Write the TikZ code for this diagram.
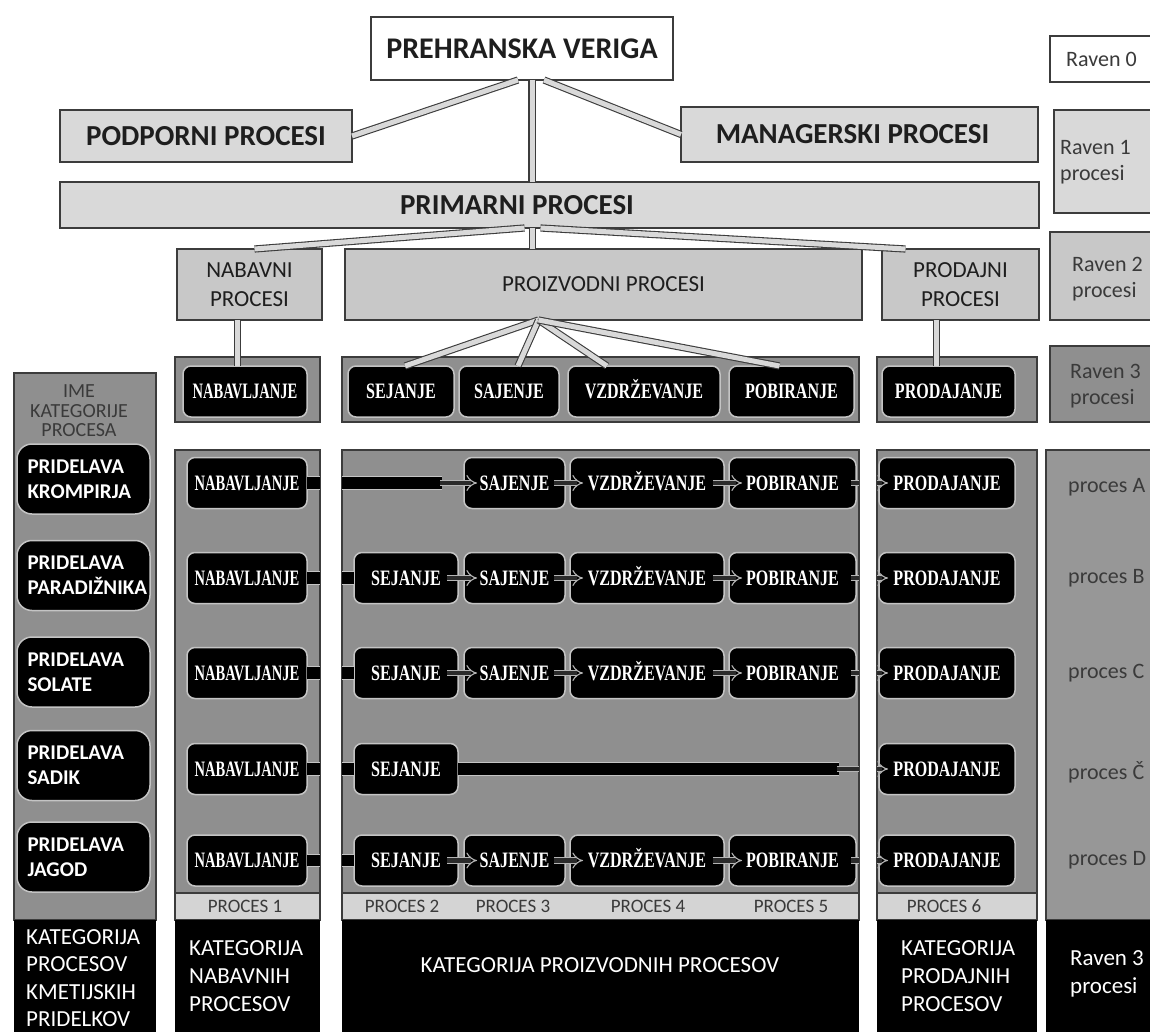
\documentclass[tikz,border=0pt]{standalone}
\usepackage{fontspec}
\setmainfont{Carlito}
\newfontfamily\boxserif{Liberation Serif}
\usepackage{graphicx}
\usetikzlibrary{arrows.meta,calc}

\definecolor{edge}{HTML}{3C3C3C}
\definecolor{lvlone}{HTML}{D9D9D9}
\definecolor{lvltwo}{HTML}{C8C8C8}
\definecolor{panel}{HTML}{8F8F8F}
\definecolor{sidepanel}{HTML}{979797}
\definecolor{strip}{HTML}{D4D4D4}
\definecolor{ink}{HTML}{1E1E1E}
\definecolor{soft}{HTML}{3A3A3A}
\definecolor{rim}{HTML}{C4C4C4}
\definecolor{arrowrim}{HTML}{B4B4B4}
\definecolor{arrowcore}{HTML}{2B2B2B}

\newcommand{\setfs}[2]{\fontsize{#1}{#2}\selectfont}
\newcommand{\condtext}[2][0.73]{\scalebox{#1}[1]{#2}}

\tikzset{
  sq/.style={anchor=north west, inner sep=0pt, outer sep=0pt, line width=1.2pt, draw=edge},
  wh/.style 2 args={minimum width=#1, minimum height=#2},
  levelone/.style={sq, fill=lvlone, text=ink, font=\setfs{29}{34}\bfseries},
  leveltwo/.style={sq, fill=lvltwo, text=ink, align=center, font=\setfs{23}{29}},
  panelbox/.style={sq, fill=panel},
  stripbox/.style={sq, fill=strip},
  bandbox/.style={anchor=north west, inner sep=0pt, outer sep=0pt, fill=black},
  stepbox/.style={draw=rim, line width=1.5pt, fill=black, rounded corners=8pt, text=white,
    font=\boxserif\bfseries\setfs{22}{24}, text height=14.5pt, text depth=0pt,
    minimum height=51, inner sep=0pt, outer sep=0pt},
  catbox/.style={anchor=west, draw=rim, line width=1.5pt, fill=black, rounded corners=15pt,
    text=white, font=\setfs{21}{25}\bfseries, align=left, text width=112, minimum width=133,
    minimum height=70, inner xsep=10.5pt, inner ysep=0pt, outer sep=0pt},
  keytext/.style={anchor=west, align=left, inner sep=0pt, text=soft, font=\setfs{22}{26}},
  striptext/.style={inner sep=0pt, text=soft, font=\setfs{19}{22}},
  bandtext/.style={anchor=west, align=left, inner sep=0pt, text=white, font=\setfs{23}{28}},
  dbl/.style={draw=edge, double=lvlone, double distance=5pt, line width=1.1pt},
  bar/.style={draw=rim, double=black, double distance=11.5pt, line width=0.9pt},
  hollow/.style={draw=arrowrim, double=arrowcore, double distance=4.5pt, line width=1.1pt, -{Implies}},
  stub/.style={draw=arrowrim, double=arrowcore, double distance=4.5pt, line width=1.1pt},
}

\begin{document}
\begin{tikzpicture}[x=1pt,y=-1pt]
\useasboundingbox (0,0) rectangle (1150,1032);
\clip (0,0) rectangle (1150,1032);
\fill[white] (0,0) rectangle (1150,1032);

% ---------- level 0 and 1 ----------
\node[sq, fill=white, wh={302}{63}, text=ink, font=\setfs{30}{36}\bfseries] (chain) at (371,17) {PREHRANSKA VERIGA};
\node[levelone, wh={292}{52}] (support) at (60,110) {PODPORNI PROCESI};
\node[levelone, wh={357}{55}] (manage) at (681,107) {MANAGERSKI PROCESI\hspace*{14pt}};
\node[levelone, wh={979}{46}] (primary) at (60,182) {};
\node[inner sep=0pt, text=ink, font=\setfs{29}{34}\bfseries] (primarytxt) at (517,205) {PRIMARNI PROCESI};

% ---------- level key on the right ----------
\node[sq, fill=white, wh={120}{46}] (lv0) at (1050,36) {};
\node[keytext] (lv0txt) at (1066,59) {Raven 0};
\node[sq, fill=lvlone, wh={120}{103}] (lv1) at (1054,110) {};
\node[keytext] (lv1txt) at (1060,162) {Raven 1\\procesi};
\node[sq, fill=lvltwo, wh={120}{88}] (lv2) at (1050,232) {};
\node[keytext] (lv2txt) at (1072,279) {Raven 2\\procesi};
\node[sq, fill=panel, wh={120}{76}] (lv3) at (1050,346) {};
\node[keytext] (lv3txt) at (1070,386) {Raven 3\\procesi};

% ---------- level 2 ----------
\node[leveltwo, wh={145}{71}] (buy) at (177,249) {NABAVNI\\PROCESI};
\node[leveltwo, wh={517}{71}] (make) at (345,249) {PROIZVODNI PROCESI};
\node[leveltwo, wh={157}{71}] (sell) at (882,249) {PRODAJNI\\PROCESI};

% ---------- level 3 header ----------
\node[panelbox, wh={145}{65}] (hbuyp) at (175,357) {};
\node[panelbox, wh={517}{65}] (hmakep) at (342,357) {};
\node[panelbox, wh={160}{65}] (hsellp) at (877,357) {};
\node[stepbox, minimum width=124] (hbuy) at (245,391.5) {\condtext[0.66]{NABAVLJANJE}};
\node[stepbox, minimum width=106] (hsow) at (401,391.5) {\condtext{SEJANJE}};
\node[stepbox, minimum width=100] (hplant) at (509,391.5) {\condtext{SAJENJE}};
\node[stepbox, minimum width=152] (htend) at (644,391.5) {\condtext{VZDRŽEVANJE}};
\node[stepbox, minimum width=125] (hharvest) at (791.5,391.5) {\condtext{POBIRANJE}};
\node[stepbox, minimum width=133] (hsell) at (948.5,391.5) {\condtext{PRODAJANJE}};

% ---------- hierarchy connectors ----------
\coordinate (spine) at ($(chain.south)+(10,0)$);
\draw[dbl] ($(chain.south)+(-4,0)$) -- (support.east);
\draw[dbl] (spine) -- (spine |- primary.north);
\draw[dbl] ($(chain.south)+(22,0)$) -- (manage.west);

\coordinate (hub) at ($(primary.south)+(-17,0)$);
\draw[dbl] (hub) -- (hub |- make.north);
\draw[dbl] ($(hub)+(-8,0)$) -- ($(buy.north)+(5,0)$);
\draw[dbl] ($(hub)+(8,0)$) -- ($(sell.north)+(-55,0)$);

\coordinate (buydrop) at ($(buy.south)+(-12,0)$);
\draw[dbl] (buydrop) -- (buydrop |- hbuy.north);
\coordinate (selldrop) at ($(sell.south)+(-24,0)$);
\draw[dbl] (selldrop) -- (selldrop |- hsell.north);
\coordinate (fan) at ($(make.south)+(-65,0)$);
\draw[dbl] (fan) -- ($(hsow.north)+(4,0)$);
\draw[dbl] (fan) -- ($(hplant.north)+(9,0)$);
\draw[dbl] (fan) -- ($(htend.north)+(-37,0)$);
\draw[dbl] (fan) -- ($(hharvest.north)+(-12,0)$);

% ---------- process matrix: columns ----------
\node[panelbox, wh={142}{547}] (catcol) at (14,373) {};
\node[bandbox, wh={142}{112}] (catband) at (14,920) {};
\node[panelbox, wh={145}{443}] (buycol) at (175,450) {};
\node[stripbox, wh={145}{27}] (buystrip) at (175,893) {};
\node[bandbox, wh={145}{112}] (buyband) at (175,920) {};
\node[panelbox, wh={517}{443}] (makecol) at (342,450) {};
\node[stripbox, wh={517}{27}] (makestrip) at (342,893) {};
\node[bandbox, wh={517}{112}] (makeband) at (342,920) {};
\node[panelbox, wh={160}{443}] (sellcol) at (877,450) {};
\node[stripbox, wh={160}{27}] (sellstrip) at (877,893) {};
\node[bandbox, wh={160}{112}] (sellband) at (877,920) {};
\node[sq, fill=sidepanel, wh={120}{470}] (keycol) at (1046,450) {};
\node[bandbox, wh={120}{112}] (keyband) at (1046,920) {};

\node[inner sep=0pt, align=center, text=soft, font=\setfs{20}{19.5}] (cathead) at (79,411) {IME\\KATEGORIJE\\PROCESA};

% category boxes
\node[catbox] (cropA) at (17,479) {PRIDELAVA\\KROMPIRJA};
\node[catbox] (cropB) at (17,575.5) {PRIDELAVA\\PARADIŽNIKA};
\node[catbox] (cropC) at (17,672) {PRIDELAVA\\SOLATE};
\node[catbox] (cropCh) at (17,765.5) {PRIDELAVA\\SADIK};
\node[catbox] (cropD) at (17,857) {PRIDELAVA\\JAGOD};

% process steps per row
\foreach \r/\y in {A/483,B/578,C/673,Ch/769,D/860.5} {
  \node[stepbox, minimum width=120] (buy\r) at (247,\y) {\condtext[0.66]{NABAVLJANJE}};
  \node[stepbox, minimum width=136] (sell\r) at (947,\y) {\condtext{PRODAJANJE}};
}
\foreach \r/\y in {B/578,C/673,Ch/769,D/860.5} {
  \node[stepbox, minimum width=104] (sow\r) at (406,\y) {\condtext{SEJANJE}};
}
\foreach \r/\y in {A/483,B/578,C/673,D/860.5} {
  \node[stepbox, minimum width=101] (plant\r) at (514.5,\y) {\condtext{SAJENJE}};
  \node[stepbox, minimum width=154] (tend\r) at (647,\y) {\condtext{VZDRŽEVANJE}};
  \node[stepbox, minimum width=127] (harvest\r) at (792.5,\y) {\condtext{POBIRANJE}};
}

% row connectors
\draw[bar] (buyA.east) -- (buyA.east -| buycol.east);
\draw[bar] (plantA.west -| makecol.west) -- ($(plantA.west)+(-22,0)$);
\draw[hollow] ($(plantA.west)+(-24,0)$) -- ($(plantA.west)+(13,0)$);
\foreach \r in {B,C,Ch,D} {
  \draw[bar] (buy\r.east) -- (buy\r.east -| buycol.east);
  \draw[bar] (sow\r.west -| makecol.west) -- (sow\r.west);
}
\foreach \r in {B,C,D} {
  \draw[hollow] ($(sow\r.east)+(-11,0)$) -- ($(plant\r.west)+(13,0)$);
}
\foreach \r in {A,B,C,D} {
  \draw[hollow] ($(plant\r.east)+(-11,0)$) -- ($(tend\r.west)+(13,0)$);
  \draw[hollow] ($(tend\r.east)+(-11,0)$) -- ($(harvest\r.west)+(13,0)$);
  \draw[stub] ($(harvest\r.east)+(-5,0)$) -- (harvest\r.east -| makecol.east);
  \draw[hollow] (sell\r.west -| sellcol.west) -- ($(sell\r.west)+(9,0)$);
}
\draw[bar] (sowCh.east) -- ($(sowCh.east -| makecol.east)+(-20,0)$);
\draw[stub] ($(sowCh.east -| makecol.east)+(-22,0)$) -- (sowCh.east -| makecol.east);
\draw[hollow] (sellCh.west -| sellcol.west) -- ($(sellCh.west)+(9,0)$);

% process numbers
\node[striptext] (p1) at (245,906.5) {PROCES 1};
\node[striptext] (p2) at (402,906.5) {PROCES 2};
\node[striptext] (p3) at (513,906.5) {PROCES 3};
\node[striptext] (p4) at (648,906.5) {PROCES 4};
\node[striptext] (p5) at (791,906.5) {PROCES 5};
\node[striptext] (p6) at (944,906.5) {PROCES 6};

% row names on the right
\node[keytext] (kA) at (1068,487) {proces A};
\node[keytext] (kB) at (1068,578) {proces B};
\node[keytext] (kC) at (1068,673) {proces C};
\node[keytext] (kCh) at (1068,772) {proces Č};
\node[keytext] (kD) at (1068,860) {proces D};

% category captions
\node[bandtext, font=\setfs{23}{27.5}] (catcap) at (26,978) {KATEGORIJA\\PROCESOV\\KMETIJSKIH\\PRIDELKOV};
\node[bandtext] (buycap) at (189,976) {KATEGORIJA\\NABAVNIH\\PROCESOV};
\node[bandtext, anchor=center] (makecap) at (600,965) {KATEGORIJA PROIZVODNIH PROCESOV};
\node[bandtext] (sellcap) at (901,976) {KATEGORIJA\\PRODAJNIH\\PROCESOV};
\node[bandtext] (keycap) at (1070,973.5) {Raven 3\\procesi};
\end{tikzpicture}
\end{document}
